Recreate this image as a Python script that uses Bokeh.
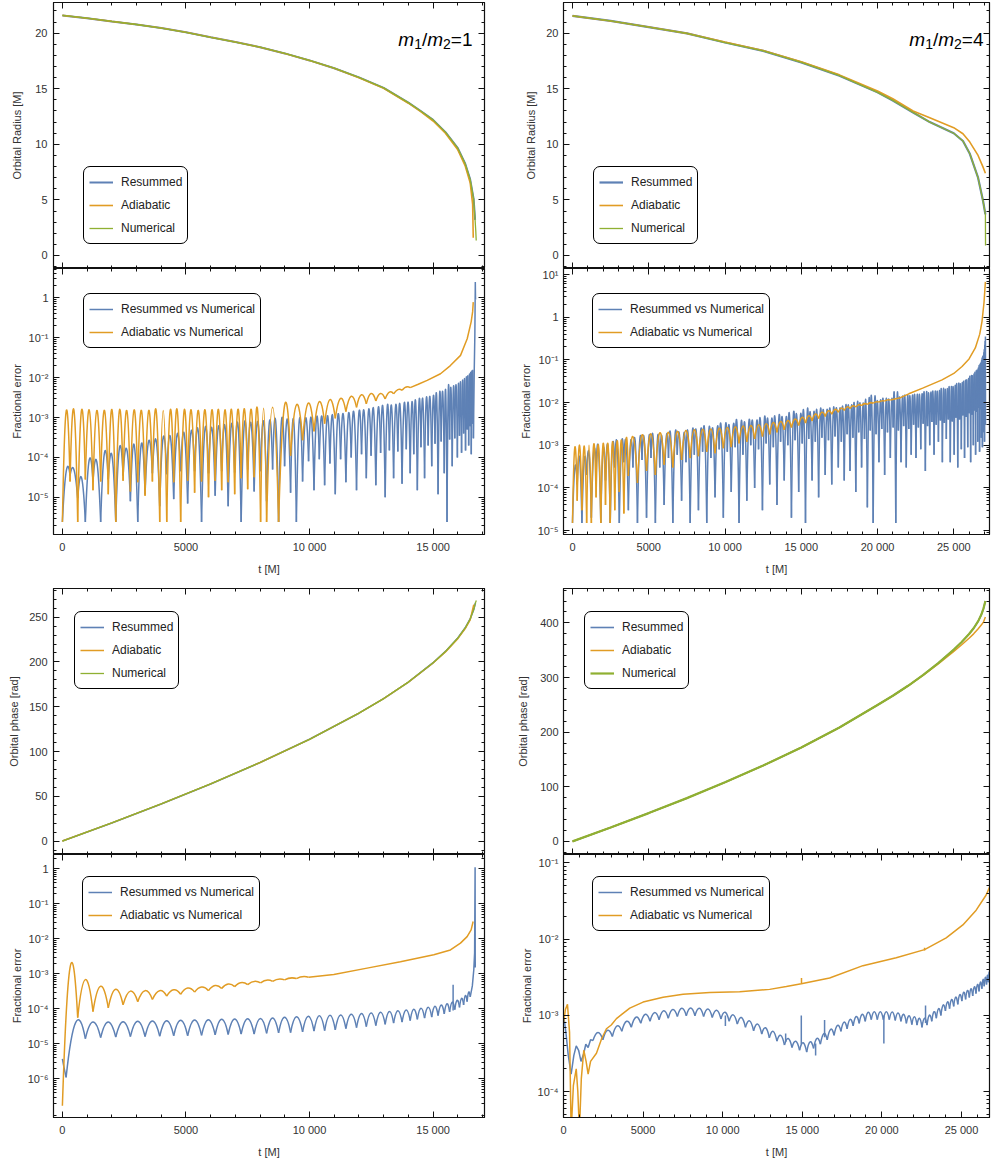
import numpy as np
from bokeh.plotting import figure
from bokeh.layouts import row, column
from bokeh.models import (Range1d, FixedTicker, LinearAxis, LogAxis, Legend, LegendItem,
                          Label, CustomJSTickFormatter)
from bokeh.embed import file_html
from bokeh.resources import INLINE

BLUE = "#5E81B5"
ORANGE = "#E19C24"
GREEN = "#8FB032"
FONT = "Liberation Sans"

# ------------------------------------------------------------------ data
# Orbital radius, m1/m2 = 1
rad1_t = [0, 1000, 2000, 3000, 4000, 5000, 6000, 7000, 8000, 9000, 10000, 11000, 12000,
          13000, 14000, 14500, 15000, 15500, 16000, 16300, 16500, 16640, 16700]
rad1_res = [21.6, 21.35, 21.06, 20.78, 20.46, 20.08, 19.63, 19.2, 18.74, 18.18, 17.55, 16.85,
            16.02, 15.08, 13.75, 13.0, 12.2, 11.1, 9.65, 8.25, 6.85, 5.1, 3.2]
rad1_ad_t = [0, 1000, 2000, 3000, 4000, 5000, 6000, 7000, 8000, 9000, 10000, 11000, 12000,
             13000, 14000, 14500, 15000, 15500, 16000, 16300, 16500, 16600, 16625]
rad1_ad = [21.6, 21.35, 21.06, 20.78, 20.46, 20.08, 19.63, 19.2, 18.74, 18.18, 17.55, 16.85,
           16.0, 15.05, 13.7, 12.95, 12.1, 11.0, 9.5, 8.05, 6.55, 4.6, 1.6]
rad1_num_t = [0, 1000, 2000, 3000, 4000, 5000, 6000, 7000, 8000, 9000, 10000, 11000, 12000,
              13000, 14000, 14500, 15000, 15500, 16000, 16300, 16500, 16640, 16700, 16725, 16745]
rad1_num = [21.6, 21.35, 21.06, 20.78, 20.46, 20.08, 19.63, 19.2, 18.74, 18.18, 17.55, 16.85,
            16.02, 15.08, 13.75, 13.0, 12.2, 11.1, 9.65, 8.25, 6.85, 5.1, 3.2, 2.3, 1.35]

# Orbital radius, m1/m2 = 4
rad4_t = [0, 2500, 5000, 7500, 10000, 12500, 15000, 17500, 20000, 21000, 22332, 23423,
          24996, 25600, 26050, 26590, 26918, 27071]
rad4_res = [21.56, 21.1, 20.55, 19.98, 19.16, 18.41, 17.37, 16.18, 14.68, 13.95, 12.87, 12.0,
            11.0, 10.3, 9.15, 7.0, 4.9, 3.7]
rad4_ad = [21.56, 21.1, 20.55, 19.98, 19.2, 18.45, 17.42, 16.25, 14.8, 14.1, 13.0, 12.4,
           11.5, 10.95, 10.2, 9.0, 7.95, 7.4]
rad4_num_t = [0, 2500, 5000, 7500, 10000, 12500, 15000, 17500, 20000, 21000, 22332, 23423,
              24996, 25600, 26050, 26590, 26918, 27071, 27080]
rad4_num = [21.56, 21.1, 20.55, 19.98, 19.16, 18.41, 17.37, 16.18, 14.68, 13.95, 12.87, 12.0,
            11.0, 10.3, 9.15, 7.0, 4.9, 3.7, 0.9]

# Orbital phase, m1/m2 = 1
ph1_t = [0, 2000, 4000, 6000, 8000, 10000, 12000, 13000, 14000, 15000, 15500, 16000, 16300,
         16500, 16650, 16714]
ph1_res = [0, 20.3, 41.5, 63.8, 87.7, 113.6, 142.8, 159.1, 177.5, 199.1, 211.7, 226.7, 238.1,
           248, 259, 266]
ph1_ad_t = [0, 2000, 4000, 6000, 8000, 10000, 12000, 13000, 14000, 15000, 15500, 16000, 16300,
            16500, 16645]
ph1_ad = [0, 20.3, 41.5, 63.8, 87.7, 113.6, 142.8, 159.1, 177.4, 198.8, 211.2, 226, 237.3,
          247, 264]
ph1_num_t = [0, 2000, 4000, 6000, 8000, 10000, 12000, 13000, 14000, 15000, 15500, 16000, 16300,
             16500, 16650, 16714, 16750]
ph1_num = [0, 20.3, 41.5, 63.8, 87.7, 113.6, 142.8, 159.1, 177.5, 199.1, 211.7, 226.7, 238.1,
           248, 259, 266, 268.5]

# Orbital phase, m1/m2 = 4
ph4_t = [0, 2500, 5000, 7500, 10000, 12500, 15000, 17500, 20000, 21000, 22000, 23000, 24000,
         25000, 25500, 26000, 26300, 26600, 26800, 26950, 27071]
ph4_res = [0, 25.4, 51.8, 79.2, 108.1, 138.8, 171.9, 208.4, 249.8, 266.6, 284.9, 304.9, 326.9,
           351.2, 364.6, 379.6, 390.2, 403.3, 414.8, 426.8, 440]
ph4_ad = [0, 25.4, 51.8, 79.2, 108.1, 138.8, 171.9, 208.4, 249.8, 266.6, 284.9, 304.5, 325.5,
          348, 359.5, 372, 380, 389.5, 396, 402, 411]
ph4_num = [0, 25.4, 51.8, 79.2, 108.1, 138.8, 171.9, 208.4, 249.8, 266.6, 284.9, 304.9, 326.9,
           351.2, 364.6, 379.6, 390.2, 403.3, 414.8, 426.8, 440]

# Radius fractional error, m1/m2 = 1 : oscillation minima (times, values) and maxima
err1_res_min_t = [0, 310, 619, 929, 1238, 1548, 1857, 2159, 2456, 2752,
                  3049, 3345, 3642, 3938, 4222, 4504, 4786, 5068, 5350, 5631,
                  5913, 6182, 6445, 6708, 6971, 7233, 7497, 7759, 8020, 8263,
                  8506, 8748, 8991, 9233, 9468, 9719, 9961, 10181, 10396, 10611,
                  10826, 11042, 11257, 11472, 11687, 11902, 12105, 12298, 12491, 12683,
                  12876, 13061, 13232, 13402, 13573, 13744, 13915, 14073, 14218, 14363,
                  14509, 14655, 14800, 14945, 15078, 15202, 15327, 15452, 15564, 15669,
                  15774, 15878, 15983, 16069, 16152, 16235, 16313, 16377, 16440, 16503,
                  16546, 16588, 16631]
err1_res_min_v = [2.4e-6, 3.5e-5, 9.5e-6, 2.4e-6, 2.5e-5, 2.4e-6, 2.8e-5, 2.4e-6, 3.5e-5, 8e-6,
                  2.4e-6, 1.2e-5, 4e-5, 6e-6, 3.8e-5, 9e-6, 4.5e-5, 7e-6, 4.5e-5, 2.4e-6,
                  4e-5, 1.1e-5, 4.5e-5, 6e-6, 4.2e-5, 2.4e-6, 5e-5, 1.4e-5, 4.5e-5, 8e-6,
                  5e-5, 2.4e-6, 6e-5, 1.3e-5, 2.4e-6, 2.5e-5, 8e-5, 1.5e-5, 9e-5, 2e-5,
                  7e-5, 1.2e-5, 9e-5, 2.4e-5, 1.0e-4, 1.5e-5, 1.2e-4, 3e-5, 1.1e-4, 2e-5,
                  1.3e-4, 1.0e-5, 1.5e-4, 3e-5, 1.4e-4, 2.2e-5, 1.6e-4, 4e-5, 1.2e-4, 1.5e-5,
                  1.8e-4, 3e-5, 2e-4, 6e-5, 2.2e-4, 1.2e-5, 2.5e-4, 4e-5, 2.4e-6, 2.8e-4,
                  6e-5, 3e-4, 1.0e-4, 3.5e-4, 1.3e-4, 4e-4, 1.5e-4, 5e-4, 2e-4, 6e-4,
                  1.2e-4, 7e-4, 3e-4]
err1_res_max_v = [4.5e-5, 5e-5, 3.1e-5, 8.5e-5, 7.7e-5, 1.3e-4, 1.1e-4, 1.7e-4, 1.6e-4, 2.1e-4,
                  2.2e-4, 2.6e-4, 2.7e-4, 3.2e-4, 3.4e-4, 3.8e-4, 4.0e-4, 4.5e-4, 4.8e-4, 5.3e-4,
                  5.5e-4, 6.0e-4, 6.2e-4, 6.7e-4, 6.8e-4, 7.2e-4, 7.4e-4, 7.8e-4, 7.9e-4, 8.3e-4,
                  8.4e-4, 8.7e-4, 8.8e-4, 9.1e-4, 9.3e-4, 9.6e-4, 9.8e-4, 1.02e-3, 1.05e-3, 1.08e-3,
                  1.12e-3, 1.16e-3, 1.22e-3, 1.28e-3, 1.35e-3, 1.42e-3, 1.5e-3, 1.6e-3, 1.68e-3, 1.75e-3,
                  1.82e-3, 1.9e-3, 1.97e-3, 2.05e-3, 2.15e-3, 2.25e-3, 2.35e-3, 2.45e-3, 2.6e-3, 2.75e-3,
                  2.9e-3, 3.1e-3, 3.3e-3, 3.5e-3, 3.7e-3, 4.0e-3, 4.3e-3, 4.7e-3, 5.1e-3, 5.5e-3,
                  6.0e-3, 6.5e-3, 7.0e-3, 7.7e-3, 8.5e-3, 9.3e-3, 1.02e-2, 1.1e-2, 1.2e-2, 1.3e-2,
                  1.4e-2, 1.5e-2]
err1_res_end_t = [16631, 16665, 16690, 16708, 16716, 16720]
err1_res_end_v = [3e-4, 1.5e-2, 0.12, 2.5, 1.0, 0.9]

err1_ad_min_t = [0, 310, 619, 929, 1238, 1548, 1857, 2159, 2456, 2752,
                 3049, 3345, 3642, 3938, 4222, 4504, 4786, 5068, 5350, 5631,
                 5913, 6182, 6445, 6708, 6971, 7233, 7497, 7759, 8020, 8263,
                 8748, 9233, 9719, 10181, 10611, 11042, 11472, 11902, 12298, 12683,
                 13061, 13402, 13744, 14073]
err1_ad_min_v = [2.4e-6, 2.5e-5, 2.4e-6, 2.8e-5, 1.5e-5, 2.5e-5, 1.2e-5, 2.4e-6, 2.6e-5, 1.4e-5,
                 2.4e-5, 1.1e-5, 2.5e-5, 2.4e-6, 2.4e-6, 2.4e-5, 2.4e-6, 2.6e-5, 1.3e-5, 2.5e-5,
                 1.0e-5, 2.6e-5, 1.5e-5, 2.4e-5, 1.2e-5, 3.0e-5, 1.6e-5, 3.2e-5, 2.4e-6, 2.4e-6,
                 2.4e-6, 1.1e-4, 2.7e-4, 4.5e-4, 7.0e-4, 9.5e-4, 1.4e-3, 1.8e-3, 2.2e-3, 2.6e-3,
                 2.9e-3, 3.9e-3, 4.8e-3, 5.6e-3]
err1_ad_max_v = [1.45e-3, 1.55e-3, 1.5e-3, 1.55e-3, 1.5e-3, 1.5e-3, 1.55e-3, 1.5e-3, 1.5e-3, 1.55e-3,
                 1.5e-3, 1.5e-3, 1.55e-3, 1.5e-3, 1.5e-3, 1.55e-3, 1.5e-3, 1.55e-3, 1.5e-3, 1.55e-3,
                 1.55e-3, 1.6e-3, 1.55e-3, 1.6e-3, 1.6e-3, 1.65e-3, 1.6e-3, 1.7e-3, 1.7e-3,
                 1.8e-3, 2.0e-3, 2.1e-3, 2.3e-3, 2.5e-3, 2.8e-3, 3.0e-3, 3.4e-3, 3.7e-3, 4.0e-3,
                 4.0e-3, 4.3e-3, 5.0e-3, 5.8e-3]
err1_ad_end_t = [14073, 14400, 14760, 15300, 15700, 16110, 16380, 16540, 16600, 16625]
err1_ad_end_v = [5.6e-3, 6.8e-3, 8.5e-3, 1.25e-2, 2.0e-2, 3.6e-2, 9.4e-2, 0.25, 0.45, 0.78]

# Radius fractional error, m1/m2 = 4
err4_res_min_t = [0, 309, 618, 928, 1237, 1546, 1855, 2164, 2474,
                  2772, 3069, 3367, 3664, 3962, 4259, 4557, 4854,
                  5147, 5434, 5720, 6007, 6294, 6580, 6867, 7153, 7440,
                  7715, 7987, 8258, 8530, 8802, 9074, 9346, 9618, 9890,
                  10151, 10407, 10663, 10919, 11174, 11430, 11686, 11942, 12198, 12454,
                  12694, 12931, 13169, 13406, 13643, 13881, 14118, 14355, 14593, 14830,
                  15061, 15276, 15491, 15707, 15922, 16137, 16352, 16567, 16783, 16998, 17213, 17428,
                  17626, 17816, 18006, 18195, 18385, 18575, 18764, 18954, 19144, 19333, 19523, 19713, 19903,
                  20091, 20278, 20465, 20652, 20839,
                  21024, 21196, 21367, 21539, 21711, 21883,
                  22049, 22206, 22363, 22520, 22677, 22834, 22991,
                  23135, 23278, 23421, 23564, 23706, 23849, 23992,
                  24122, 24251, 24381, 24510, 24639, 24769, 24898,
                  25025, 25142, 25259, 25376, 25494,
                  25599, 25704, 25808, 25913,
                  26015, 26104, 26193, 26282,
                  26357, 26429, 26501, 26573,
                  26634, 26689, 26743, 26798,
                  26838, 26877, 26917,
                  26954, 26983, 27012, 27041, 27070]
err4_res_min_v = [1.5e-5, 1.2e-4, 1.5e-5, 2e-4, 2e-5, 3e-4, 1.5e-5, 1.5e-4, 1.5e-5, 3e-4,
                  1.5e-5, 4e-4, 3e-5, 3e-4, 1.5e-5, 4.5e-4, 2e-5, 5e-4, 1.5e-5, 3e-4,
                  4e-5, 5e-4, 1.5e-5, 6e-4, 5e-5, 4e-4, 1.5e-5, 6e-4, 3e-5, 7e-4,
                  1.5e-5, 5e-4, 6e-5, 8e-4, 2e-5, 7e-4, 8e-5, 9e-4, 1.5e-5, 6e-4,
                  5e-5, 1e-3, 1e-4, 8e-4, 3e-5, 1.1e-3, 1.2e-4, 9e-4, 4e-5, 1.2e-3,
                  1.5e-4, 1e-3, 2e-5, 1.3e-3, 8e-5, 1.1e-3, 1.5e-5, 1.4e-3, 1.5e-4, 1.2e-3,
                  6e-5, 1.5e-3, 2e-4, 1.3e-3, 1.2e-4, 1.6e-3, 3e-4, 1.2e-3, 1.5e-4, 1.8e-3,
                  2.5e-4, 1.5e-3, 8e-5, 2e-3, 3e-4, 1.4e-3, 3.5e-5, 2.2e-3, 1.5e-5, 1.8e-3,
                  4e-4, 2.4e-3, 2e-4, 2e-3, 5e-4, 2.6e-3, 1.5e-5, 2.2e-3, 4e-4, 2.8e-3,
                  3e-4, 2.4e-3, 6e-4, 3e-3, 5e-4, 2.6e-3, 8e-4, 3.2e-3, 2.5e-4, 2.8e-3,
                  1e-3, 3.5e-3, 6e-4, 3e-3, 1.2e-3, 3.8e-3, 4e-4, 3.3e-3, 1.4e-3, 4e-3,
                  4e-4, 3.6e-3, 6e-4, 4.4e-3, 3e-4, 4e-3, 8e-4, 5e-3, 5e-4, 4.6e-3,
                  9e-4, 5.6e-3, 4e-4, 5.2e-3, 1e-3, 6.5e-3, 6e-4, 6e-3, 1.2e-3, 7.5e-3,
                  7e-4, 7e-3, 1.5e-3, 9e-3, 9e-4, 8.5e-3, 2e-3, 1.1e-2, 1.2e-3, 1.2e-2,
                  3e-3]
err4_res_max_v = [3e-4, 5e-4, 4.5e-4, 6.5e-4, 7e-4, 8.5e-4, 8e-4, 9.5e-4, 1.0e-3, 1.1e-3,
                  1.1e-3, 1.15e-3, 1.2e-3, 1.25e-3, 1.3e-3, 1.35e-3, 1.4e-3, 1.45e-3, 1.5e-3, 1.55e-3,
                  1.6e-3, 1.65e-3, 1.7e-3, 1.75e-3, 1.8e-3, 1.85e-3, 1.9e-3, 1.95e-3, 2.0e-3, 2.1e-3,
                  2.2e-3, 2.3e-3, 2.4e-3, 2.5e-3, 2.6e-3, 2.7e-3, 2.8e-3, 2.9e-3, 3.0e-3, 3.1e-3,
                  3.3e-3, 3.4e-3, 3.5e-3, 3.6e-3, 3.7e-3, 3.8e-3, 3.9e-3, 4.0e-3, 4.1e-3, 4.2e-3,
                  4.3e-3, 4.4e-3, 4.5e-3, 4.6e-3, 4.8e-3, 5.0e-3, 5.2e-3, 5.4e-3, 5.6e-3, 5.8e-3,
                  6.0e-3, 6.2e-3, 6.4e-3, 6.6e-3, 6.8e-3, 7.0e-3, 7.2e-3, 7.5e-3, 7.8e-3, 8.0e-3,
                  8.2e-3, 8.5e-3, 8.7e-3, 9.0e-3, 9.2e-3, 9.5e-3, 9.7e-3, 1.0e-2, 1.02e-2, 1.05e-2,
                  1.07e-2, 1.1e-2, 1.12e-2, 1.15e-2, 1.17e-2, 1.2e-2, 1.23e-2, 1.26e-2, 1.29e-2, 1.32e-2,
                  1.35e-2, 1.38e-2, 1.41e-2, 1.44e-2, 1.47e-2, 1.5e-2, 1.53e-2, 1.56e-2, 1.6e-2, 1.64e-2,
                  1.68e-2, 1.72e-2, 1.76e-2, 1.8e-2, 1.85e-2, 1.9e-2, 1.95e-2, 2.0e-2, 2.05e-2, 2.1e-2,
                  2.15e-2, 2.2e-2, 2.3e-2, 2.4e-2, 2.5e-2, 2.6e-2, 2.7e-2, 2.8e-2, 3.0e-2, 3.2e-2,
                  3.4e-2, 3.6e-2, 3.8e-2, 4.0e-2, 4.3e-2, 4.6e-2, 5.0e-2, 5.5e-2, 6.0e-2, 6.6e-2,
                  7.2e-2, 8.0e-2, 9.0e-2, 0.10, 0.11, 0.12, 0.14, 0.16, 0.20, 0.26]
err4_res_end_t = [27070, 27073, 27076]
err4_res_end_v = [3e-3, 0.35, 0.1]

err4_ad_min_t = [0, 309, 618, 928, 1237, 1546, 1855, 2164, 2474, 2772, 3069, 3367, 3664,
                 4259, 4854, 5434, 6007, 6580, 7153, 7715, 8258, 8802, 9346, 9890, 10407,
                 10919, 11430, 11942, 12454, 12931, 13406, 13881, 14355, 14830, 15276, 15707,
                 16137, 16567, 16998, 17428, 17816, 18195, 18575, 18954, 19333, 19713, 20091,
                 20465, 20839]
err4_ad_min_v = [1.5e-5, 5e-5, 3e-5, 1.5e-5, 1.5e-5, 6e-5, 1.5e-5, 4e-5, 1.5e-5, 3e-5, 8e-5,
                 2.5e-5, 1.9e-4,
                 1.3e-4, 2.5e-4, 2.0e-4, 3.5e-4, 3e-4, 4.5e-4, 5e-4, 5.5e-4, 7e-4, 6.5e-4,
                 8.5e-4, 9e-4, 1.1e-3, 1.2e-3, 1.4e-3, 1.6e-3, 1.8e-3, 2.0e-3, 2.3e-3, 2.6e-3,
                 2.9e-3, 3.3e-3, 3.7e-3, 4.2e-3, 4.7e-3, 5.3e-3, 5.9e-3, 6.5e-3, 7.2e-3, 7.8e-3,
                 8.4e-3, 9.0e-3, 9.6e-3, 1.02e-2, 1.08e-2, 1.14e-2]
err4_ad_max_v = [9e-4, 1.0e-3, 9.5e-4, 1.0e-3, 1.05e-3, 1.0e-3, 1.1e-3, 1.1e-3, 1.2e-3, 1.25e-3,
                 1.3e-3, 1.4e-3,
                 1.6e-3, 1.75e-3, 1.85e-3, 1.95e-3, 2.0e-3, 2.1e-3, 2.2e-3, 2.3e-3, 2.35e-3, 2.4e-3,
                 2.5e-3, 2.6e-3, 2.7e-3, 2.8e-3, 2.9e-3, 3.0e-3, 3.2e-3, 3.4e-3, 3.6e-3, 3.8e-3,
                 4.1e-3, 4.5e-3, 4.9e-3, 5.4e-3, 5.9e-3, 6.4e-3, 6.9e-3, 7.4e-3, 7.9e-3, 8.4e-3,
                 8.9e-3, 9.4e-3, 9.9e-3, 1.04e-2, 1.1e-2, 1.16e-2]
err4_ad_end_t = [20839, 21500, 22050, 23000, 24230, 25000, 25540, 26000, 26410, 26700, 26850,
                 26980, 27070]
err4_ad_end_v = [1.14e-2, 1.3e-2, 1.6e-2, 2.2e-2, 3.4e-2, 4.8e-2, 7.0e-2, 0.105, 0.19, 0.4, 0.8,
                 2.2, 6.7]

# Phase fractional error, m1/m2 = 1
perr1_res_start_t = [0, 60, 150]
perr1_res_start_v = [3.7e-6, 2.2e-6, 1.1e-6]
perr1_res_min_t = [150, 929, 1548, 2159, 2752, 3345, 3938, 4504, 5068, 5631,
                   6182, 6708, 7233, 7759, 8263, 8748, 9233, 9719, 10181, 10611,
                   11042, 11472, 11902, 12298, 12683, 13061, 13402, 13744, 14073, 14363,
                   14655, 14945, 15202, 15452, 15669, 15878, 16069, 16235, 16377, 16503]
perr1_res_min_v = [1.1e-6, 1.4e-5, 1.5e-5, 1.55e-5, 1.6e-5, 1.6e-5, 1.65e-5, 1.7e-5, 1.7e-5, 1.75e-5,
                   1.8e-5, 1.85e-5, 1.9e-5, 1.9e-5, 2.0e-5, 2.05e-5, 2.1e-5, 2.2e-5, 2.3e-5, 2.4e-5,
                   2.5e-5, 2.7e-5, 2.9e-5, 3.1e-5, 3.3e-5, 3.6e-5, 3.9e-5, 4.2e-5, 4.6e-5, 5.0e-5,
                   5.4e-5, 5.8e-5, 6.4e-5, 7.2e-5, 8.2e-5, 9.5e-5, 1.1e-4, 1.3e-4, 1.6e-4, 2.2e-4]
perr1_res_max_v = [4.1e-5, 4.2e-5, 4.2e-5, 4.3e-5, 4.4e-5, 4.5e-5, 4.6e-5, 4.7e-5, 4.8e-5, 4.9e-5,
                   5.0e-5, 5.1e-5, 5.2e-5, 5.3e-5, 5.5e-5, 5.7e-5, 5.9e-5, 6.1e-5, 6.3e-5, 6.5e-5,
                   6.7e-5, 7.0e-5, 7.3e-5, 7.6e-5, 8.0e-5, 8.4e-5, 8.8e-5, 9.2e-5, 9.7e-5, 1.03e-4,
                   1.1e-4, 1.18e-4, 1.28e-4, 1.4e-4, 1.55e-4, 1.75e-4, 2.0e-4, 2.4e-4, 3.0e-4]
perr1_res_end_t = [16503, 16588, 16647, 16680, 16700, 16705]
perr1_res_end_v = [2.2e-4, 4.5e-4, 1.3e-3, 4e-3, 1.1, 1.5e-3]
perr1_res_blip_t = [15810]
perr1_res_blip_lo = [9e-5]
perr1_res_blip_hi = [4.9e-4]

perr1_ad_min_t = [0, 619, 1238, 1857, 2456, 3049, 3642, 4222, 4786, 5350, 5913, 6445, 6971,
                  7497, 8020, 8506, 8991, 9468, 9961]
perr1_ad_min_v = [1.7e-7, 5.6e-5, 8.3e-5, 1.07e-4, 1.3e-4, 1.6e-4, 1.85e-4, 2.3e-4, 2.6e-4,
                  3.0e-4, 3.3e-4, 3.8e-4, 4.3e-4, 4.9e-4, 5.5e-4, 6.1e-4, 6.7e-4, 7.3e-4, 8.0e-4]
perr1_ad_max_v = [1.5e-3, 6.8e-4, 4.4e-4, 3.6e-4, 3.2e-4, 3.3e-4, 3.3e-4, 3.5e-4, 3.9e-4, 4.2e-4,
                  4.6e-4, 5.1e-4, 5.6e-4, 6.1e-4, 6.6e-4, 7.1e-4, 7.6e-4, 8.3e-4]
perr1_ad_end_t = [9961, 10981, 12330, 13679, 15028, 15702, 16107, 16377, 16539, 16620]
perr1_ad_end_v = [8.0e-4, 9.5e-4, 1.45e-3, 2.2e-3, 3.5e-3, 4.8e-3, 7.5e-3, 1.15e-2, 1.8e-2, 3.1e-2]

# Phase fractional error, m1/m2 = 4
perr4_res_start_t = [40, 150, 300, 480, 650, 800, 950, 1100, 1275, 1400, 1547, 1700, 1855]
perr4_res_start_v = [9e-4, 6e-4, 3e-4, 1.7e-4, 3e-4, 4e-4, 3.5e-4, 2.5e-4, 3.2e-4, 4.2e-4,
                     3.8e-4, 4.8e-4, 4.7e-4]
perr4_res_min_t = [1855, 2474, 3069, 3664, 4259, 4854, 5434, 6007, 6580, 7153,
                   7715, 8258, 8802, 9346, 9890, 10407, 10919, 11430, 11942, 12454,
                   12931, 13406, 13881, 14355, 14830, 15276, 15707, 16137, 16567, 16998,
                   17428, 17816, 18195, 18575, 18954, 19333, 19713, 20091, 20465, 20839,
                   21196, 21539, 21883, 22206, 22520, 22834, 23135, 23421, 23706, 23992,
                   24251, 24510, 24769, 25025, 25259, 25494, 25704, 25913, 26104, 26282,
                   26429, 26573, 26689, 26798, 26877]
perr4_res_min_v = [4.7e-4, 4.8e-4, 5.3e-4, 6.2e-4, 7.0e-4, 7.9e-4, 8.4e-4, 8.8e-4, 9.2e-4, 9.7e-4,
                   9.9e-4, 9.9e-4, 9.7e-4, 9.4e-4, 9.0e-4, 8.4e-4, 7.7e-4, 7.0e-4, 6.3e-4, 5.7e-4,
                   5.1e-4, 4.6e-4, 4.1e-4, 3.8e-4, 3.5e-4, 3.3e-4, 3.7e-4, 4.2e-4, 4.8e-4, 5.5e-4,
                   6.2e-4, 6.7e-4, 7.3e-4, 7.9e-4, 8.4e-4, 8.8e-4, 8.8e-4, 8.8e-4, 8.8e-4, 8.6e-4,
                   8.4e-4, 7.9e-4, 7.6e-4, 7.5e-4, 7.0e-4, 7.5e-4, 8.4e-4, 9.2e-4, 1.0e-3, 1.15e-3,
                   1.23e-3, 1.32e-3, 1.4e-3, 1.54e-3, 1.63e-3, 1.72e-3, 1.8e-3, 1.94e-3, 2.07e-3, 2.24e-3,
                   2.42e-3, 2.55e-3, 2.73e-3, 3.1e-3, 4.4e-3]
perr4_res_max_v = [6.0e-4, 6.4e-4, 7.3e-4, 8.4e-4, 9.5e-4, 1.04e-3, 1.09e-3, 1.15e-3, 1.2e-3, 1.24e-3,
                   1.25e-3, 1.24e-3, 1.22e-3, 1.17e-3, 1.1e-3, 1.02e-3, 9.4e-4, 8.5e-4, 7.7e-4, 6.9e-4,
                   6.2e-4, 5.5e-4, 5.0e-4, 4.6e-4, 4.4e-4, 4.5e-4, 5.0e-4, 5.8e-4, 6.6e-4, 7.4e-4,
                   8.2e-4, 8.9e-4, 9.7e-4, 1.04e-3, 1.1e-3, 1.12e-3, 1.12e-3, 1.12e-3, 1.11e-3, 1.08e-3,
                   1.04e-3, 9.9e-4, 9.6e-4, 9.2e-4, 9.2e-4, 1.01e-3, 1.12e-3, 1.23e-3, 1.37e-3, 1.51e-3,
                   1.62e-3, 1.74e-3, 1.88e-3, 2.02e-3, 2.13e-3, 2.24e-3, 2.38e-3, 2.55e-3, 2.74e-3, 2.97e-3,
                   3.16e-3, 3.36e-3, 3.7e-3, 4.8e-3]
perr4_res_blip_t = [10169, 13955, 14938, 15837, 16400, 20124, 22742]
perr4_res_blip_lo = [7.3e-4, 4.5e-4, 4.2e-4, 3.0e-4, 5.2e-4, 4.3e-4, 8e-4]
perr4_res_blip_hi = [1.0e-3, 5.8e-4, 1.0e-3, 4.3e-4, 8.7e-4, 1.0e-3, 1.35e-3]

perr4_ad_t = [0, 120, 250, 380, 480, 620, 800, 900, 1000, 1120, 1275, 1420, 1547, 1700, 2070,
              2400, 2698, 3000, 3326, 3700, 4163, 5000, 6256, 7511, 9185, 11068, 12950, 13996,
              14938, 16717, 18809, 20901, 22680, 24040, 25086, 25923, 26550, 26864]
perr4_ad_v = [8e-4, 1.2e-3, 1.4e-3, 6e-4, 3e-5, 1.2e-4, 2e-4, 1e-4, 3e-5, 1.5e-4, 3.5e-4, 2.5e-4,
              1.7e-4, 2.5e-4, 3.2e-4, 5e-4, 6.7e-4, 7.5e-4, 9.1e-4, 1.05e-3, 1.25e-3, 1.5e-3,
              1.73e-3, 1.9e-3, 2.0e-3, 2.05e-3, 2.2e-3, 2.4e-3, 2.6e-3, 3.1e-3, 4.5e-3, 5.7e-3,
              7.3e-3, 1.04e-2, 1.54e-2, 2.4e-2, 3.8e-2, 5.4e-2]
perr4_ad_blip_t = [14950, 22680]
perr4_ad_blip_lo = [2.6e-3, 7.1e-3]
perr4_ad_blip_hi = [3.1e-3, 7.7e-3]

# tick values
x_major_1 = [0, 5000, 10000, 15000]
x_major_4 = [0, 5000, 10000, 15000, 20000, 25000]
rad_major = [0, 5, 10, 15, 20]
ph1_major = [0, 50, 100, 150, 200, 250]
ph4_major = [0, 100, 200, 300, 400]
log_major = [1e-6, 1e-5, 1e-4, 1e-3, 1e-2, 1e-1, 1.0, 10.0]

# ------------------------------------------------------------------ helpers
LOGFMT = CustomJSTickFormatter(code="""
const e = Math.round(Math.log10(tick));
if (e === 0) { return "1"; }
const sup = {"-": "\u207b", "0": "\u2070", "1": "\u00b9", "2": "\u00b2", "3": "\u00b3",
             "4": "\u2074", "5": "\u2075", "6": "\u2076", "7": "\u2077", "8": "\u2078", "9": "\u2079"};
let s = "";
for (const c of String(e)) { s += sup[c]; }
return "10" + s;
""")
XFMT = CustomJSTickFormatter(code="""
const s = String(Math.round(tick));
if (s.length > 4) { return s.slice(0, s.length - 3) + " " + s.slice(s.length - 3); }
return s;
""")
BLANK = CustomJSTickFormatter(code="return '';")

log_minor = [m * 10.0 ** e for e in range(-8, 2) for m in range(2, 10)]
x_minor = [v for v in range(0, 28001, 1000) if v % 5000 != 0]


def fig(w, h, xr, yr, ylog, bl, br, bt, bb):
    p = figure(width=w, height=h, x_range=Range1d(*xr), y_range=Range1d(*yr),
               y_axis_type="log" if ylog else "linear", output_backend="svg",
               toolbar_location=None, min_border_left=bl, min_border_right=br,
               min_border_top=bt, min_border_bottom=bb)
    p.grid.visible = False
    p.outline_line_color = "#111111"
    p.outline_line_width = 1.2
    p.outline_line_alpha = 1.0
    p.background_fill_color = "white"
    p.border_fill_color = "white"
    return p


def style_axis(ax, ticks, minor, show, standoff=6):
    ax.ticker = FixedTicker(ticks=ticks, minor_ticks=minor)
    ax.major_tick_in = 6
    ax.major_tick_out = 0
    ax.minor_tick_in = 3
    ax.minor_tick_out = 0
    ax.axis_line_color = "#111111"
    ax.major_tick_line_color = "#111111"
    ax.minor_tick_line_color = "#111111"
    ax.major_label_text_font = FONT
    ax.major_label_text_color = "#333333"
    ax.axis_label_text_font = FONT
    ax.axis_label_text_font_size = "11px"
    ax.axis_label_text_font_style = "normal"
    ax.axis_label_text_color = "#333333"
    if show:
        ax.major_label_text_font_size = "11px"
        ax.major_label_standoff = standoff
    else:
        ax.formatter = BLANK
        ax.major_label_text_font_size = "1px"
        ax.major_label_standoff = 0
        ax.axis_label = None


def axes(p, xt, xm, yt, ym, ylog, show_x, ylab, ylab_off, ylab_standoff):
    xa = p.xaxis[0]
    style_axis(xa, xt, xm, show_x)
    if show_x:
        xa.formatter = XFMT
        xa.axis_label = "t [M]"
        xa.axis_label_standoff = 7
    ya = p.yaxis[0]
    style_axis(ya, yt, ym, True, ylab_standoff)
    if ylog:
        ya.formatter = LOGFMT
    ya.axis_label = ylab
    ya.axis_label_standoff = ylab_off
    top = LinearAxis()
    style_axis(top, xt, xm, False)
    p.add_layout(top, "above")
    right = LogAxis() if ylog else LinearAxis()
    style_axis(right, yt, ym, False)
    p.add_layout(right, "right")


def arches(p, min_t, min_v, max_v, color, width):
    n = min(len(min_t) - 1, len(min_v) - 1, len(max_v))
    tt = np.asarray(min_t[:n + 1], float)
    tv = np.asarray(min_v[:n + 1], float)
    pv = np.asarray(max_v[:n], float)
    x0, x1 = tt[:-1], tt[1:]
    y0, y1 = tv[:-1], tv[1:]
    return p.quadratic(x0=x0, y0=y0, x1=x1, y1=y1, cx=(x0 + x1) / 2.0,
                       cy=pv ** 2 / np.sqrt(y0 * y1), line_color=color, line_width=width)


def legend(p, items, loc):
    leg = Legend(items=[LegendItem(label=l, renderers=[r]) for l, r in items], location=loc)
    leg.border_line_color = "black"
    leg.border_line_width = 1.4
    leg.border_line_alpha = 1.0
    leg.background_fill_color = "white"
    leg.background_fill_alpha = 1
    leg.label_text_font = FONT
    leg.label_text_font_size = "12px"
    leg.label_text_color = "#222222"
    leg.glyph_width = 24
    leg.glyph_height = 20
    leg.label_height = 20
    leg.label_standoff = 8
    leg.padding = 5
    leg.spacing = 3
    leg.margin = 0
    if "border_radius" in Legend.properties():
        leg.border_radius = 7
    p.add_layout(leg)


def ratio_label(p, frame_w, frame_h, right_pad, q):
    main, sub = 19, 14
    parts = [("m", main, "italic", 0, 0.833 * main), ("1", sub, "normal", -4, 0.556 * sub),
             ("/", main, "normal", 0, 0.278 * main), ("m", main, "italic", 0, 0.833 * main),
             ("2", sub, "normal", -4, 0.556 * sub), ("=" + q, main, "normal", 0, 1.14 * main)]
    total = sum(pp[4] for pp in parts)
    x = frame_w - right_pad - total
    base = frame_h - 37
    for txt, size, style, dy, wdt in parts:
        p.add_layout(Label(x=x, y=base + dy, x_units="screen", y_units="screen", text=txt,
                           text_font=FONT, text_font_size=f"{size}px", text_font_style=style,
                           text_baseline="alphabetic", text_color="black"))
        x += wdt


# ------------------------------------------------------------------ layout constants
LW, RW = 496, 496
LBL, LBR = 53, 12
RBL, RBR = 67, 3
FH = 266
XR1 = (-360, 17080)
XR4 = (-590, 27340)
XR4b = (0, 26760)

# ------------------------------------------------------------------ row 1 : radius
a1 = fig(LW, FH + 2, XR1, (-1.17, 22.76), False, LBL, LBR, 2, 0)
axes(a1, x_major_1, x_minor, rad_major, list(range(-1, 23)), False, False,
     "Orbital Radius [M]", 9, 6)
r_b = a1.line(rad1_t, rad1_res, color=BLUE, line_width=2.0)
r_o = a1.line(rad1_ad_t, rad1_ad, color=ORANGE, line_width=1.6)
r_g = a1.line(rad1_num_t, rad1_num, color=GREEN, line_width=1.3)
legend(a1, [("Resummed", r_b), ("Adiabatic", r_o), ("Numerical", r_g)], (30, 24))
ratio_label(a1, LW - LBL - LBR, FH, 12, "1")

a2 = fig(RW, FH + 2, XR4, (-1.17, 22.76), False, RBL, RBR, 2, 0)
axes(a2, x_major_4, x_minor, rad_major, list(range(-1, 23)), False, False,
     "Orbital Radius [M]", 6, 5)
r_b = a2.line(rad4_t, rad4_res, color=BLUE, line_width=2.2)
r_o = a2.line(rad4_t, rad4_ad, color=ORANGE, line_width=1.6)
r_g = a2.line(rad4_num_t, rad4_num, color=GREEN, line_width=1.3)
legend(a2, [("Resummed", r_b), ("Adiabatic", r_o), ("Numerical", r_g)], (30, 24))
ratio_label(a2, RW - RBL - RBR, FH, 6, "4")

# ------------------------------------------------------------------ row 2 : radius error
b1 = fig(LW, FH + 54, XR1, (1.17e-6, 5.42), True, LBL, LBR, 0, 54)
axes(b1, x_major_1, x_minor, log_major, log_minor, True, True, "Fractional error", 2, 5)
arches(b1, err1_res_min_t, err1_res_min_v, err1_res_max_v, BLUE, 1.5)
e_b = b1.line(err1_res_end_t, err1_res_end_v, color=BLUE, line_width=1.5)
arches(b1, err1_ad_min_t, err1_ad_min_v, err1_ad_max_v, ORANGE, 1.5)
e_o = b1.line(err1_ad_end_t, err1_ad_end_v, color=ORANGE, line_width=1.5)
legend(b1, [("Resummed vs Numerical", e_b), ("Adiabatic vs Numerical", e_o)], (30, 186))

b2 = fig(RW, FH + 54, XR4, (8.1e-6, 13.8), True, RBL, RBR, 0, 54)
axes(b2, x_major_4, x_minor, log_major, log_minor, True, True, "Fractional error", 3, 5)
arches(b2, err4_res_min_t, err4_res_min_v, err4_res_max_v, BLUE, 1.5)
e_b = b2.line(err4_res_end_t, err4_res_end_v, color=BLUE, line_width=1.5)
arches(b2, err4_ad_min_t, err4_ad_min_v, err4_ad_max_v, ORANGE, 1.5)
e_o = b2.line(err4_ad_end_t, err4_ad_end_v, color=ORANGE, line_width=1.5)
legend(b2, [("Resummed vs Numerical", e_b), ("Adiabatic vs Numerical", e_o)], (29, 186))

# ------------------------------------------------------------------ row 3 : phase
c1 = fig(LW, FH, XR1, (-15, 282), False, LBL, LBR, 0, 0)
axes(c1, x_major_1, x_minor, ph1_major, list(range(-10, 290, 10)), False, False,
     "Orbital phase [rad]", 6, 6)
p_b = c1.line(ph1_t, ph1_res, color=BLUE, line_width=1.6)
p_o = c1.line(ph1_ad_t, ph1_ad, color=ORANGE, line_width=1.5)
p_g = c1.line(ph1_num_t, ph1_num, color=GREEN, line_width=1.3)
legend(c1, [("Resummed", p_b), ("Adiabatic", p_o), ("Numerical", p_g)], (21, 165))

c2 = fig(RW, FH, XR4, (-24, 463), False, RBL, RBR, 0, 0)
axes(c2, x_major_4, x_minor, ph4_major, list(range(-20, 470, 20)), False, False,
     "Orbital phase [rad]", 8, 5)
p_b = c2.line(ph4_t, ph4_res, color=BLUE, line_width=1.6)
p_o = c2.line(ph4_t, ph4_ad, color=ORANGE, line_width=1.5)
p_g = c2.line(ph4_t, ph4_num, color=GREEN, line_width=2.2)
legend(c2, [("Resummed", p_b), ("Adiabatic", p_o), ("Numerical", p_g)], (21, 165))

# ------------------------------------------------------------------ row 4 : phase error
d1 = fig(LW, FH + 40, XR1, (7.9e-8, 2.54), True, LBL, LBR, 0, 40)
axes(d1, x_major_1, x_minor, log_major, log_minor, True, True, "Fractional error", 2, 5)
q_b = d1.line(perr1_res_start_t, perr1_res_start_v, color=BLUE, line_width=1.5)
arches(d1, perr1_res_min_t, perr1_res_min_v, perr1_res_max_v, BLUE, 1.5)
d1.line(perr1_res_end_t, perr1_res_end_v, color=BLUE, line_width=1.5)
d1.segment(x0=perr1_res_blip_t, y0=perr1_res_blip_lo, x1=perr1_res_blip_t, y1=perr1_res_blip_hi,
           line_color=BLUE, line_width=1.5)
arches(d1, perr1_ad_min_t, perr1_ad_min_v, perr1_ad_max_v, ORANGE, 1.5)
q_o = d1.line(perr1_ad_end_t, perr1_ad_end_v, color=ORANGE, line_width=1.5)
legend(d1, [("Resummed vs Numerical", q_b), ("Adiabatic vs Numerical", q_o)], (29, 186))

d2 = fig(RW, FH + 40, XR4b, (4.6e-5, 0.129), True, RBL, RBR, 0, 40)
axes(d2, x_major_4, x_minor, log_major, log_minor, True, True, "Fractional error", 2, 5)
q_b = d2.line(perr4_res_start_t, perr4_res_start_v, color=BLUE, line_width=1.5)
arches(d2, perr4_res_min_t, perr4_res_min_v, perr4_res_max_v, BLUE, 1.5)
d2.segment(x0=perr4_res_blip_t, y0=perr4_res_blip_lo, x1=perr4_res_blip_t, y1=perr4_res_blip_hi,
           line_color=BLUE, line_width=1.5)
q_o = d2.line(perr4_ad_t, perr4_ad_v, color=ORANGE, line_width=1.5)
d2.segment(x0=perr4_ad_blip_t, y0=perr4_ad_blip_lo, x1=perr4_ad_blip_t, y1=perr4_ad_blip_hi,
           line_color=ORANGE, line_width=1.5)
legend(d2, [("Resummed vs Numerical", q_b), ("Adiabatic vs Numerical", q_o)], (29, 186))

layout = column(row(a1, a2), row(b1, b2), row(c1, c2), row(d1, d2))

with open("out.html", "w") as f:
    f.write(file_html(layout, INLINE))
